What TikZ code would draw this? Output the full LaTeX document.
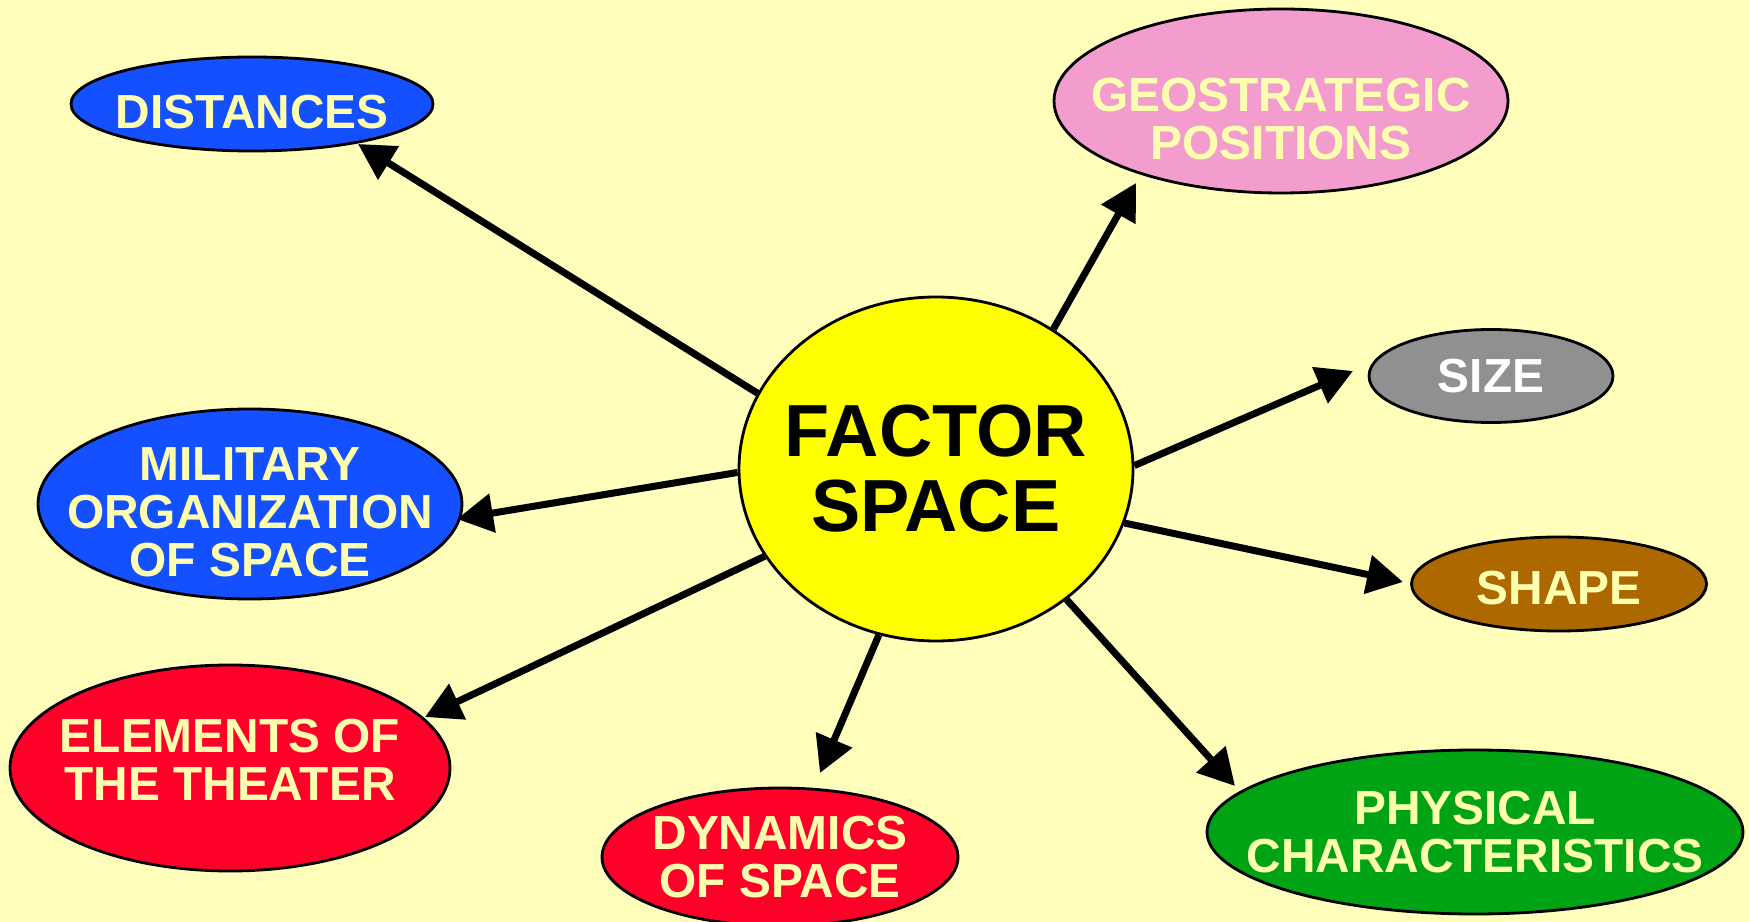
\documentclass[tikz,border=0pt]{standalone}
\usepackage{fontspec}
\setmainfont{Liberation Sans}
\usetikzlibrary{shapes.geometric,arrows.meta}
\definecolor{bg}{HTML}{FFFFBB}
\definecolor{txt}{HTML}{FFFFB0}
\definecolor{cblue}{HTML}{1450FF}
\definecolor{cpink}{HTML}{F39DCE}
\definecolor{cyel}{HTML}{FFFF00}
\definecolor{cgray}{HTML}{909090}
\definecolor{cbrown}{HTML}{AD6800}
\definecolor{cgreen}{HTML}{00A314}
\definecolor{cred}{HTML}{FF0028}
\begin{document}
\begin{tikzpicture}[x=0.01cm,y=-0.01cm,
  bub/.style n args={3}{ellipse, draw=black, line width=0.8pt, inner sep=0pt,
    fill=#1, minimum width=#2*0.01cm, minimum height=#3*0.01cm},
  lab/.style={align=center, text=txt, inner sep=0pt,
    font=\bfseries\fontsize{13.6}{13.6}\selectfont},
  conn/.style={line width=0.07cm, -{Triangle[length=0.36cm,width=0.38cm]}}]
\fill[bg] (0,0) rectangle (1749,922);
\useasboundingbox (0,0) rectangle (1749,922);

\node[bub={cyel}{394}{344}, label={[lab, text=black, font=\bfseries\fontsize{21}{21.3}\selectfont]center:FACTOR\\SPACE}] (fs) at (936,469) {};
\node[bub={cblue}{362}{94}, label={[lab, yshift=-0.08cm]center:DISTANCES}] (dist) at (252,104) {};
\node[bub={cpink}{454}{184}, label={[lab, yshift=-0.18cm]center:GEOSTRATEGIC\\POSITIONS}] (geo) at (1281,101) {};
\node[bub={cgray}{244}{93}, label={[lab, text=white]center:SIZE}] (size) at (1491,376) {};
\node[bub={cbrown}{295}{94}, label={[lab, yshift=-0.04cm]center:SHAPE}] (shape) at (1559,584) {};
\node[bub={cgreen}{536}{164}, label={[lab]center:PHYSICAL\\CHARACTERISTICS}] (phys) at (1475,832) {};
\node[bub={cred}{356}{138}, label={[lab]center:DYNAMICS\\OF SPACE}] (dyn) at (780,857) {};
\node[bub={cred}{440}{206}, label={[lab, yshift=0.08cm]center:ELEMENTS OF\\THE THEATER}] (elem) at (230,768) {};
\node[bub={cblue}{424}{190}, label={[lab, yshift=-0.08cm]center:MILITARY\\ORGANIZATION\\OF SPACE}] (mil) at (250,504) {};

\coordinate (tdist) at (358,144);
\coordinate (tgeo) at (1136,183);
\coordinate (tsize) at (1353,371);
\coordinate (tshape) at (1403,582);
\coordinate (tphys) at (1235,786);
\coordinate (tdyn) at (820,773);
\coordinate (telem) at (425,717);
\coordinate (tmil) at (457,519);

\draw[conn] (fs.157.5) -- (tdist);
\draw[conn] (fs.50.6) -- (tgeo);
\draw[conn] (fs.1.7) -- (tsize);
\draw[conn] (fs.-16.7) -- (tshape);
\draw[conn] (fs.-45.9) -- (tphys);
\draw[conn] (fs.-109.9) -- (tdyn);
\draw[conn] (fs.207.5) -- (telem);
\draw[conn] (fs.181.2) -- (tmil);
\end{tikzpicture}
\end{document}
